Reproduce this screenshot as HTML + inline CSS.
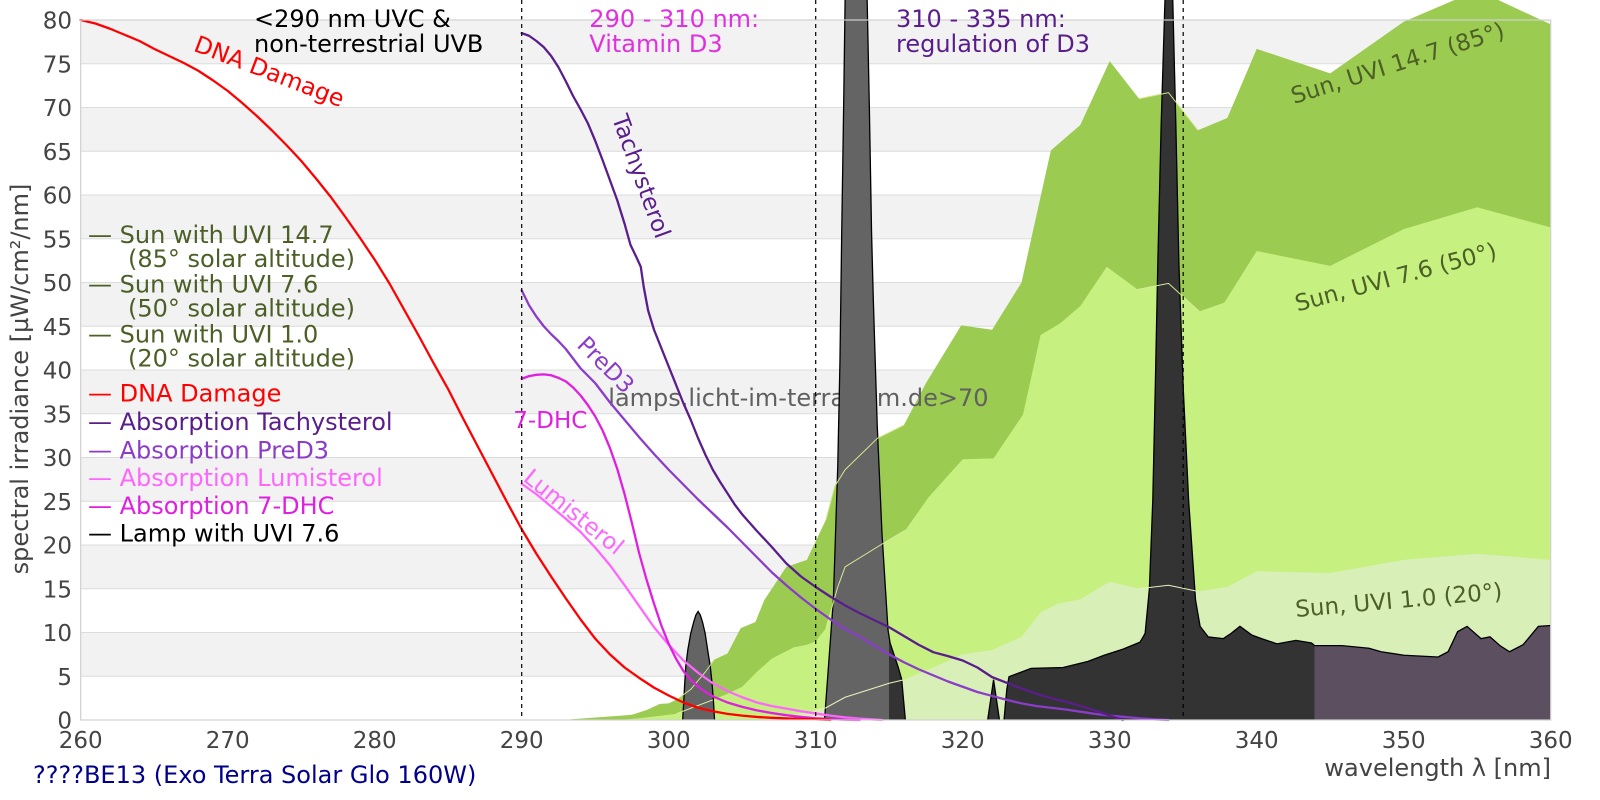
<!DOCTYPE html>
<html><head><meta charset="utf-8"><style>
html,body{margin:0;padding:0;background:#fff;}
svg{display:block;}
text{font-family:"DejaVu Sans","Liberation Sans",sans-serif;}
</style></head><body>
<svg width="1600" height="800" viewBox="0 0 1600 800" xmlns="http://www.w3.org/2000/svg">
<defs>
<linearGradient id="lg" gradientUnits="userSpaceOnUse" x1="260" y1="0" x2="360" y2="0">
<stop offset="0" stop-color="#646464"/><stop offset="0.55" stop-color="#646464"/>
<stop offset="0.55" stop-color="#333333"/><stop offset="0.8394" stop-color="#333333"/>
<stop offset="0.8394" stop-color="#5c4f5f"/><stop offset="1" stop-color="#5c4f5f"/>
</linearGradient>
</defs>
<rect x="0" y="0" width="1600" height="800" fill="#fff"/>
<!-- bands -->
<g fill="#f2f2f2">
<rect x="80.7" y="632.5" width="1470" height="43.75"/>
<rect x="80.7" y="545" width="1470" height="43.75"/>
<rect x="80.7" y="457.5" width="1470" height="43.75"/>
<rect x="80.7" y="370" width="1470" height="43.75"/>
<rect x="80.7" y="282.5" width="1470" height="43.75"/>
<rect x="80.7" y="195" width="1470" height="43.75"/>
<rect x="80.7" y="107.5" width="1470" height="43.75"/>
<rect x="80.7" y="20" width="1470" height="43.75"/>
</g>
<g stroke="#dcdcdc" stroke-width="1">
<line x1="80.7" x2="1550.7" y1="676.25" y2="676.25"/><line x1="80.7" x2="1550.7" y1="632.5" y2="632.5"/>
<line x1="80.7" x2="1550.7" y1="588.75" y2="588.75"/><line x1="80.7" x2="1550.7" y1="545" y2="545"/>
<line x1="80.7" x2="1550.7" y1="501.25" y2="501.25"/><line x1="80.7" x2="1550.7" y1="457.5" y2="457.5"/>
<line x1="80.7" x2="1550.7" y1="413.75" y2="413.75"/><line x1="80.7" x2="1550.7" y1="370" y2="370"/>
<line x1="80.7" x2="1550.7" y1="326.25" y2="326.25"/><line x1="80.7" x2="1550.7" y1="282.5" y2="282.5"/>
<line x1="80.7" x2="1550.7" y1="238.75" y2="238.75"/><line x1="80.7" x2="1550.7" y1="195" y2="195"/>
<line x1="80.7" x2="1550.7" y1="151.25" y2="151.25"/><line x1="80.7" x2="1550.7" y1="107.5" y2="107.5"/>
<line x1="80.7" x2="1550.7" y1="63.75" y2="63.75"/>
</g>

<g transform="translate(80.7,720) scale(14.7,-8.75) translate(-260,0)">
<!-- sun fills -->
<path fill="#9bcb50" d="M293,0 L293.5,0.1 295.5,0.35 296.8,0.5 297.5,0.6 298.5,1.14 299.4,1.85 300,1.9 300.6,2.4 301.5,3.5 302.5,5.5 303.1,6.9 304,7.6 304.9,10.5 305.9,11.2 306.5,13.7 308,17.5 309.4,18.3 310.7,22.9 311.3,26.7 312,28.6 314.2,32.2 316,33.7 317.5,38.5 319.9,45.1 322,44.6 324,50 326,65.1 328,68 330,75.3 332,71 334,71.7 336,67.4 338,68.8 340,76.7 345,73.9 350,79.8 355,83.4 360,79.5 360,0 Z"/>
<path fill="#c6f080" d="M296.5,0 L298,0.2 300.5,0.7 303,2.3 304,3.0 305,3.8 306,5.5 307,7.0 308.5,8.3 309.4,8.6 310,9.0 310.7,10.5 311.5,15.2 312,17.5 314.7,20.3 316.1,21.7 317.7,25.5 320,29.8 322.1,29.9 324.1,34.9 325.3,44.0 326.6,45.3 328,47.3 329.8,51.8 331.9,49.2 334,49.9 336.1,46.7 337.8,47.7 340,53.6 345,51.9 350,56.1 355,58.6 360,56.3 360,0 Z"/>
<path fill="#d9efb8" d="M306.5,0 L308,0.5 310,1.1 310.7,1.4 312,2.6 315,4.2 316,4.6 318,6.0 320,7.5 322,8.0 324,9.5 325.3,12.3 326.5,13.3 328,13.8 330,15.8 332,15.0 334,15.4 336,14.7 338,15.2 340,17.0 345,16.8 350,18.3 355,19.0 360,18.3 360,0 Z"/>
</g>

<!-- watermark -->
<text x="608.3" y="406" font-size="24" fill="#606060">lamps.licht-im-terrarium.de&gt;70</text>

<g transform="translate(80.7,720) scale(14.7,-8.75) translate(-260,0)">
<!-- lamp -->
<path fill="url(#lg)" d="M300.95,0 L301.02,2 301.09,4.2 301.16,6.1 301.3,8.0 301.5,9.9 301.7,11.2 301.85,12.0 302.0,12.4 302.15,12.0 302.3,11.2 302.48,9.9 302.65,8.0 302.83,6.1 302.95,4.2 303.05,2 303.12,0 L310.6,0 311.2,13.7 311.5,29 311.65,41 311.77,55.7 311.9,70 312.0,82.3 312.02,95 313.48,95 313.5,82.3 313.65,70 313.8,55.7 313.92,48 314.19,33.5 314.51,21.3 314.92,10.3 315.06,8.8 315.6,6.1 315.85,4.65 316.1,0 L321.7,0 322.1,4.6 322.5,0 L322.81,0 323.0,3.5 323.15,4.95 324.65,5.9 326.83,6.0 328.53,6.7 329.62,7.4 330.91,8.1 332.07,8.9 332.41,9.9 332.7,15 332.93,25.1 333.1,38 333.27,52 333.5,68 333.76,82.3 333.8,95 334.25,95 334.29,82.3 334.5,68 334.71,52 335.0,38 335.37,25.1 335.84,13.7 336.15,10.7 336.7,9.5 337.72,9.3 338.26,9.9 338.86,10.7 339.68,9.7 340.33,9.3 341.38,8.7 342.67,9.1 343.73,8.8 343.94,8.5 345.8,8.5 347.64,8.2 348.46,7.8 350.02,7.4 352.34,7.2 353.02,7.8 353.67,10.1 354.31,10.7 355.26,9.3 355.87,9.5 356.55,8.5 357.2,7.8 358.12,8.6 359.16,10.7 360,10.8 360,0 Z"/>
<g fill="none" stroke="#000" stroke-width="1.3">
<path vector-effect="non-scaling-stroke" d="M300.95,0 L301.02,2 301.09,4.2 301.16,6.1 301.3,8.0 301.5,9.9 301.7,11.2 301.85,12.0 302.0,12.4 302.15,12.0 302.3,11.2 302.48,9.9 302.65,8.0 302.83,6.1 302.95,4.2 303.05,2 303.12,0"/>
<path vector-effect="non-scaling-stroke" d="M310.6,0 L311.2,13.7 311.5,29 311.65,41 311.77,55.7 311.9,70 312.0,82.3 312.02,95 M313.48,95 L313.5,82.3 313.65,70 313.8,55.7 313.92,48 314.19,33.5 314.51,21.3 314.92,10.3 315.06,8.8 315.6,6.1 315.85,4.65 316.1,0"/>
<path vector-effect="non-scaling-stroke" d="M321.7,0 L322.1,4.6 322.5,0"/>
<path vector-effect="non-scaling-stroke" d="M322.81,0 L323.0,3.5 323.15,4.95 324.65,5.9 326.83,6.0 328.53,6.7 329.62,7.4 330.91,8.1 332.07,8.9 332.41,9.9 332.7,15 332.93,25.1 333.1,38 333.27,52 333.5,68 333.76,82.3 333.8,95 M334.25,95 L334.29,82.3 334.5,68 334.71,52 335.0,38 335.37,25.1 335.84,13.7 336.15,10.7 336.7,9.5 337.72,9.3 338.26,9.9 338.86,10.7 339.68,9.7 340.33,9.3 341.38,8.7 342.67,9.1 343.73,8.8 343.94,8.5 345.8,8.5 347.64,8.2 348.46,7.8 350.02,7.4 352.34,7.2 353.02,7.8 353.67,10.1 354.31,10.7 355.26,9.3 355.87,9.5 356.55,8.5 357.2,7.8 358.12,8.6 359.16,10.7 360,10.8"/>
</g>
<!-- thin sun lines over lamp -->
<g fill="none" stroke-width="1">
<path vector-effect="non-scaling-stroke" stroke="#d2e68a" d="M300.6,2.4 L301.5,3.5 302.5,5.5 303.1,6.9 M310.7,22.9 L311.3,26.7 312,28.6 314.2,32.2 316,33.7 M332,71 L334,71.7 336,67.4"/>
<path vector-effect="non-scaling-stroke" stroke="#d8ec98" d="M300.5,0.7 L303,2.3 M310.7,10.5 L311.5,15.2 312,17.5 314.7,20.3 316.1,21.7 M331.9,49.2 L334,49.9 336.1,46.7"/>
<path vector-effect="non-scaling-stroke" stroke="#e8f2c0" d="M310,1.1 L310.7,1.4 312,2.6 315,4.2 316,4.6 M332,15.0 L334,15.4 336,14.7"/>
</g>
<!-- absorption lines -->
<g fill="none" stroke-width="2.3" stroke-linejoin="round" stroke-linecap="round">
<path vector-effect="non-scaling-stroke" stroke="#ff66ff" d="M290,27.0 L291,25.8 292,24.4 293,23.0 294,21.5 295,19.7 296,17.7 297,15.4 298,13.0 299,10.6 300,8.6 301,6.8 302,5.4 303,4.2 304,3.3 305,2.6 306,2.0 307,1.6 308,1.3 309,1.0 310,0.75 311,0.5 312,0.3 313,0.15 314,0.05 314.5,0"/>
<path vector-effect="non-scaling-stroke" stroke="#e020e0" d="M290,39.0 L290.5,39.3 291,39.45 291.5,39.5 292,39.4 292.5,39.1 293,38.7 293.5,38.0 294,37.1 294.5,36.0 295,34.7 295.5,33.1 296,31.1 296.5,28.7 297,25.8 297.5,22.5 298,19.0 298.5,16.0 299,13.3 299.5,10.8 300,8.7 300.5,7.0 301,5.6 301.5,4.6 302,3.8 302.5,3.2 303,2.7 304,2.0 305,1.5 306,1.1 307,0.8 308,0.55 309,0.35 310,0.2 311,0.1 312,0.03 313,0"/>
<path vector-effect="non-scaling-stroke" stroke="#8b3dc9" d="M290,49.1 L290.5,47.4 291,46.1 291.5,45.0 292,44.1 292.5,43.3 293,42.4 293.5,41.3 294,40.2 295,38.5 296,36.3 297,34.3 298,32.3 299,30.4 300,28.6 301,26.9 302,25.2 303,23.6 304,22.0 305,20.3 306,18.6 307,16.9 308,15.4 309,14.0 310,12.7 311,11.5 312,10.4 313,9.5 314,8.5 315,7.5 316,6.6 317,5.8 318,5.1 319,4.4 320,3.8 321,3.2 322,2.75 323,2.3 324,1.9 325,1.6 326,1.4 327,1.2 328,0.95 329,0.7 330,0.5 331,0.35 332,0.2 333,0.08 334,0"/>
<path vector-effect="non-scaling-stroke" stroke="#5a1e8c" d="M290,78.5 L290.5,78.2 291,77.6 291.5,76.9 292,75.9 292.5,74.6 293,73.0 293.5,71.3 294,69.8 294.5,68.2 295,66.2 295.5,64.0 296,61.7 296.5,59.4 297,56.7 297.4,54.3 297.8,52.9 298.1,51.8 298.3,49.5 298.6,46.8 299,44.6 299.5,42.5 300,40.4 300.5,38.3 301,36.2 301.5,34.3 302,32.2 302.5,30.3 303,28.6 303.5,27.2 304,25.9 304.5,24.6 305,23.5 306,21.6 307,19.8 308,17.9 309,16.4 310,15.2 311,14.1 312,13.1 313,12.2 314,11.4 315,10.6 316,9.6 317,8.6 318,7.75 319,7.3 320,6.8 321,6.0 322,4.9 323,4.25 324,3.6 325,3.0 326,2.5 327,2.1 328,1.6 329,1.1 330,0.5 330.9,0"/>
<path vector-effect="non-scaling-stroke" stroke="#ff0000" d="M260,80 L261,79.6 262,79.0 263,78.3 264,77.6 265,76.7 266,75.9 267,75.1 268,74.2 269,73.1 270,71.9 271,70.5 272,69.0 273,67.4 274,65.7 275,63.9 276,61.9 277,59.8 278,57.5 279,55.1 280,52.6 281,49.9 282,46.9 283,43.9 284,40.8 285,37.8 286,34.5 287,31.3 288,28.1 289,24.9 290,21.8 291,19.0 292,16.4 293,13.9 294,11.5 295,9.3 296,7.5 297,6.0 298,4.8 299,3.7 300,2.8 301,2.0 302,1.4 303,1.0 304,0.7 305,0.5 306,0.35 307,0.25 308,0.18 309,0.12 310,0.08 311,0"/>
</g>
</g>

<!-- dashed lines -->
<g stroke="#000" stroke-width="1.2" stroke-dasharray="4,4">
<line x1="521.7" y1="0" x2="521.7" y2="720"/>
<line x1="815.7" y1="0" x2="815.7" y2="720"/>
<line x1="1183.2" y1="0" x2="1183.2" y2="720"/>
</g>

<!-- spines -->
<g stroke="#d0d0d0" stroke-width="1.2" fill="none">
<rect x="80.7" y="20" width="1470" height="700"/>
</g>

<!-- y ticks -->
<g font-size="23" fill="#444" text-anchor="end">
<text x="72" y="728.5">0</text><text x="72" y="684.75">5</text><text x="72" y="641">10</text>
<text x="72" y="597.25">15</text><text x="72" y="553.5">20</text><text x="72" y="509.75">25</text>
<text x="72" y="466">30</text><text x="72" y="422.25">35</text><text x="72" y="378.5">40</text>
<text x="72" y="334.75">45</text><text x="72" y="291">50</text><text x="72" y="247.25">55</text>
<text x="72" y="203.5">60</text><text x="72" y="159.75">65</text><text x="72" y="116">70</text>
<text x="72" y="72.25">75</text><text x="72" y="28.5">80</text>
</g>
<!-- x ticks -->
<g font-size="23" fill="#444" text-anchor="middle">
<text x="80.7" y="748">260</text><text x="227.7" y="748">270</text><text x="374.7" y="748">280</text>
<text x="521.7" y="748">290</text><text x="668.7" y="748">300</text><text x="815.7" y="748">310</text>
<text x="962.7" y="748">320</text><text x="1109.7" y="748">330</text><text x="1256.7" y="748">340</text>
<text x="1403.7" y="748">350</text><text x="1550.7" y="748">360</text>
</g>
<text x="1551" y="776" font-size="24" fill="#444" text-anchor="end">wavelength λ [nm]</text>
<text transform="translate(28,379) rotate(-90)" font-size="24" fill="#444" text-anchor="middle">spectral irradiance [µW/cm²/nm]</text>
<text x="33" y="783" font-size="24" fill="#00008b">????BE13 (Exo Terra Solar Glo 160W)</text>

<!-- top annotations -->
<g font-size="24">
<text x="254" y="27" fill="#000">&lt;290 nm UVC &amp;</text>
<text x="254" y="52" fill="#000">non-terrestrial UVB</text>
<text x="589.3" y="27" fill="#e030e0">290 - 310 nm:</text>
<text x="589.3" y="52" fill="#e030e0">Vitamin D3</text>
<text x="896" y="27" fill="#5a1e8c">310 - 335 nm:</text>
<text x="896" y="52" fill="#5a1e8c">regulation of D3</text>
</g>

<!-- legend -->
<g font-size="24">
<text x="88" y="243" fill="#4b5f26">— Sun with UVI 14.7</text>
<text x="128" y="267" fill="#4b5f26">(85° solar altitude)</text>
<text x="88" y="292.7" fill="#4b5f26">— Sun with UVI 7.6</text>
<text x="128" y="316.7" fill="#4b5f26">(50° solar altitude)</text>
<text x="88" y="342.7" fill="#4b5f26">— Sun with UVI 1.0</text>
<text x="128" y="366.7" fill="#4b5f26">(20° solar altitude)</text>
<text x="88" y="401.7" fill="#ff0000">— DNA Damage</text>
<text x="88" y="430" fill="#5a1e8c">— Absorption Tachysterol</text>
<text x="88" y="458.3" fill="#8b3dc9">— Absorption PreD3</text>
<text x="88" y="486" fill="#ff66ff">— Absorption Lumisterol</text>
<text x="88" y="514" fill="#e020e0">— Absorption 7-DHC</text>
<text x="88" y="541.7" fill="#000">— Lamp with UVI 7.6</text>
</g>

<!-- inline labels -->
<text transform="translate(192.5,50.5) rotate(21)" font-size="23.5" fill="#ff0000">DNA Damage</text>
<text transform="translate(633.9,178.9) rotate(70)" font-size="23" fill="#5a1e8c" text-anchor="middle">Tachysterol</text>
<text transform="translate(600.2,370.4) rotate(45)" font-size="23" fill="#8b3dc9" text-anchor="middle">PreD3</text>
<text x="513.3" y="428" font-size="23" fill="#e020e0">7-DHC</text>
<text transform="translate(568.9,517.9) rotate(39)" font-size="23" fill="#ff66ff" text-anchor="middle">Lumisterol</text>
<text transform="translate(1294,104) rotate(-17.5)" font-size="23" fill="#4b5f26">Sun, UVI 14.7 (85°)</text>
<text transform="translate(1297.5,311.5) rotate(-15)" font-size="23" fill="#4b5f26">Sun, UVI 7.6 (50°)</text>
<text transform="translate(1296,617) rotate(-5)" font-size="23" fill="#4b5f26">Sun, UVI 1.0 (20°)</text>
</svg>
</body></html>
